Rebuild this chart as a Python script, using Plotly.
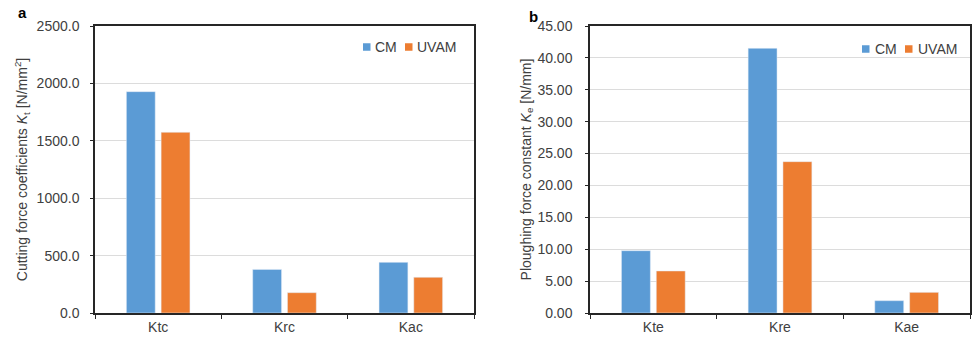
import plotly.graph_objects as go

cats_a = ["Ktc", "Krc", "Kac"]
cm_a = [1928, 380, 441]
uvam_a = [1574, 177, 311]

cats_b = ["Kte", "Kre", "Kae"]
cm_b = [9.77, 41.5, 1.93]
uvam_b = [6.59, 23.73, 3.24]

series_names = ["CM", "UVAM"]
blue = "#5b9bd5"
orange = "#ed7d31"
colors = [blue, orange]
font = "Liberation Sans, Arial, sans-serif"
txt = "#404040"
tick_txt = "#404040"

fig = go.Figure()
fig.add_trace(go.Bar(x=cats_a, y=cm_a, name="CM", marker_color=blue, xaxis="x", yaxis="y"))
fig.add_trace(go.Bar(x=cats_a, y=uvam_a, name="UVAM", marker_color=orange, xaxis="x", yaxis="y"))
fig.add_trace(go.Bar(x=cats_b, y=cm_b, name="CM", marker_color=blue, xaxis="x2", yaxis="y2"))
fig.add_trace(go.Bar(x=cats_b, y=uvam_b, name="UVAM", marker_color=orange, xaxis="x2", yaxis="y2"))

W, H = 972, 343
ydom = [1 - 313 / H, 1 - 26 / H]
axis_common = dict(showline=True, linecolor="#262626", linewidth=1.5, mirror=True,
                   tickfont=dict(family=font, size=14, color=tick_txt))
xcommon = dict(axis_common, ticks="outside", tickson="boundaries", ticklen=4,
               tickcolor="#262626", showgrid=False)
ycommon = dict(axis_common, ticks="outside", ticklen=3, tickcolor="#262626",
               showgrid=True, gridcolor="#dcdcdc", gridwidth=1, zeroline=False)

# manual legends (small squares + text), positioned in pixels
shapes = []
annotations = []
legend_specs = [
    ([363, 405], [373, 415], 47),
    ([862, 905], [873, 916], 49),
]
for sq_xs, tx_xs, yc in legend_specs:
    for sx, tx, name, col in zip(sq_xs, tx_xs, series_names, colors):
        shapes.append(dict(type="rect", xref="paper", yref="paper",
                           x0=sx / W, x1=(sx + 7.5) / W,
                           y0=1 - (yc + 3.75) / H, y1=1 - (yc - 3.75) / H,
                           fillcolor=col, line=dict(width=0)))
        annotations.append(dict(text=name, x=tx / W, y=1 - yc / H, xref="paper", yref="paper",
                                xanchor="left", yanchor="middle", showarrow=False,
                                font=dict(family=font, size=14, color=txt)))

annotations += [
    dict(text="<b>a</b>", x=22 / W, y=1 - 13 / H, xref="paper", yref="paper",
         xanchor="center", yanchor="middle",
         showarrow=False, font=dict(family=font, size=15, color="#000")),
    dict(text="<b>b</b>", x=533 / W, y=1 - 16 / H, xref="paper", yref="paper",
         xanchor="center", yanchor="middle",
         showarrow=False, font=dict(family=font, size=15, color="#000")),
]

fig.update_layout(
    width=W, height=H, margin=dict(l=0, r=0, t=0, b=0, autoexpand=False),
    paper_bgcolor="white", plot_bgcolor="white", showlegend=False,
    barmode="group", bargap=0.45, bargroupgap=0.17,
    font=dict(family=font, size=14, color=txt),
    xaxis=dict(xcommon, domain=[95 / W, 474 / W], anchor="y"),
    yaxis=dict(ycommon, domain=ydom, anchor="x", range=[0, 2500], dtick=500, tickformat=".1f",
               ticklabelstandoff=8,
               title=dict(text="Cutting force coefficients <i>K</i><sub>t</sub> [N/mm<sup>2</sup>]",
                          font=dict(family=font, size=14, color=txt), standoff=6)),
    xaxis2=dict(xcommon, domain=[590 / W, 970 / W], anchor="y2"),
    yaxis2=dict(ycommon, domain=ydom, anchor="x2", range=[0, 45], dtick=5, tickformat=".2f",
                ticklabelstandoff=10,
                title=dict(text="Ploughing force constant <i>K</i><sub>e</sub> [N/mm]",
                           font=dict(family=font, size=14, color=txt), standoff=3)),
    shapes=shapes,
    annotations=annotations,
)

fig.write_html("out.html")
